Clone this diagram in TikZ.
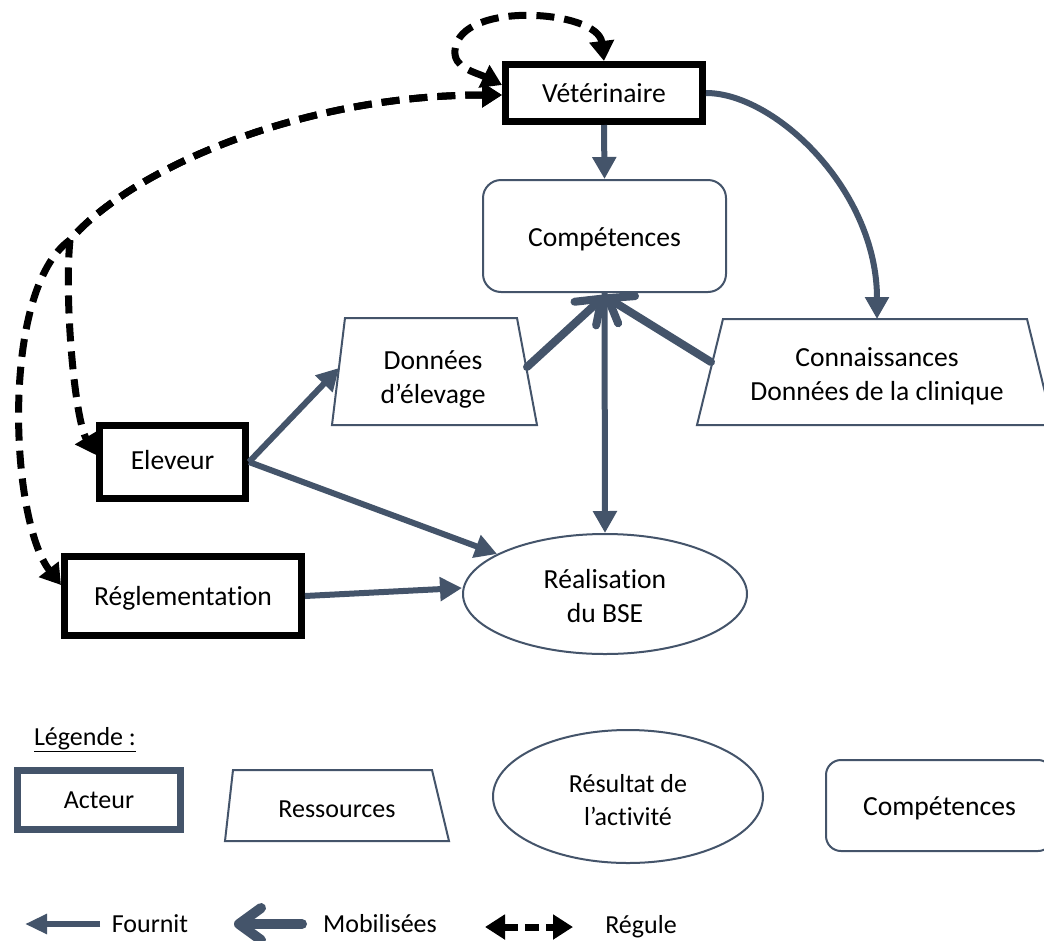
\documentclass[tikz,border=0pt]{standalone}
\usepackage{fontspec}
\setmainfont{Carlito}[Ligatures=NoCommon]
\usetikzlibrary{arrows.meta,shapes.geometric}
\definecolor{slate}{HTML}{44546A}
\newcommand{\dn}[2][4pt]{\raisebox{-#1}[\height][\depth]{\begin{tabular}{@{}c@{}}#2\end{tabular}}}
\begin{document}
\begin{tikzpicture}[x=1pt,y=-1pt,
  every node/.style={font=\fontsize{27.6}{34}\selectfont, inner sep=0pt, text=black},
  legfont/.style={font=\fontsize{26}{33}\selectfont},
  actor/.style={draw=black, line width=7pt, rectangle},
  compbox/.style={draw=slate, line width=2pt, rectangle, rounded corners=18pt},
  resline/.style={draw=slate, line width=2pt, line join=miter},
  resultbox/.style={ellipse, draw=slate, line width=2pt},
  fournit/.style={draw=slate, line width=6pt, -{Triangle[length=22pt,width=23pt]}},
  mobil/.style={draw=slate, line width=8pt, line cap=round, -{Straight Barb[length=22pt,width=32pt,round]}},
  regule/.style={draw=black, line width=7pt, dash pattern=on 18pt off 10pt,
     {Triangle[length=20pt,width=24pt]}-{Triangle[length=20pt,width=24pt]}}
]
\clip (0,0) rectangle (1044,940);
\fill[white] (0,0) rectangle (1044,940);

% main nodes
\node[actor, minimum width=197pt, minimum height=57pt] (vet) at (604,93) {\dn[3pt]{Vétérinaire}};
\node[actor, minimum width=146pt, minimum height=73pt] (ele) at (172.5,462) {\dn[1pt]{Eleveur}};
\node[actor, minimum width=237pt, minimum height=79pt] (reg) at (183,596) {\dn[3pt]{Réglementation}};
\node[compbox, minimum width=243pt, minimum height=112pt] (comp) at (604.5,236) {\dn[4pt]{Compétences}};
\node[resultbox, minimum width=284pt, minimum height=120pt] (real) at (605,594) {\dn[5pt]{Réalisation\\du BSE}};

% resources (trapezoids)
\draw[resline] (345,318) -- (517,318) -- (537,425) -- (332,425) -- cycle;
\node (don) at (433,371.5) {\dn[8pt]{Données\\d’élevage}};
\coordinate (donL) at (339,368);
\coordinate (donR) at (527,367);
\draw[resline] (723,319) -- (1027,319) -- (1053,425) -- (697,425) -- cycle;
\node (con) at (877,372) {\dn[5pt]{Connaissances\\Données de la clinique}};
\coordinate (conT) at (877,319);
\coordinate (conL) at (711,362);

% fournit arrows
\draw[fournit] (vet.south) -- (comp.north);
\draw[fournit] (vet.east) .. controls (775,93) and (877,190) .. (conT);
\draw[fournit] (ele.east) -- (donL);
\draw[fournit] (ele.east) -- (real);
\draw[fournit] (reg.east) -- ([yshift=6pt]real.west);
\draw[fournit] (comp.south) -- (real.north);

% mobilisees arrows
\draw[mobil] (donR) -- ([yshift=-3pt]comp.south);
\draw[mobil] (conL) -- ([yshift=-3pt]comp.south);

% regule arrows
\draw[regule] ([yshift=8pt]vet.west) .. controls (475,72) and (453,68) .. (455,50)
   .. controls (460,0) and (598,10) .. (vet.north);
\draw[regule] ([yshift=-2pt]vet.west) .. controls (300,95) and (130,170) .. (70,240)
   .. controls (64,300) and (75,420) .. ([yshift=7pt]ele.west);
\draw[regule] ([yshift=-2pt]vet.west) .. controls (300,95) and (130,170) .. (70,240)
   .. controls (0,290) and (10,520) .. ([yshift=11pt]reg.west);

% legend
\node[legfont] (leg) at (85,737) {\dn[2pt]{\underline{Légende :}}};
\node[actor, draw=slate, legfont, minimum width=163pt, minimum height=59pt] (lact) at (99,800) {Acteur};
\draw[resline] (233,770) -- (432,770) -- (449,841) -- (225,841) -- cycle;
\node[legfont] (lres) at (337,805.5) {\dn[5pt]{Ressources}};
\node[resultbox, legfont, minimum width=270pt, minimum height=133pt] (lrst) at (628,796.5) {\dn[6pt]{Résultat de\\l’activité}};
\node[compbox, rounded corners=15pt, minimum width=227pt, minimum height=91pt] (lcomp) at (939.5,805.5) {\dn[3pt]{Compétences}};

\coordinate (f1) at (100,924);
\coordinate (f0) at (25,924);
\draw[fournit, -{Triangle[length=22pt,width=19pt]}] (f1) -- (f0);
\node[legfont] (lf) at (150,924) {Fournit};
\coordinate (m1) at (302,924);
\coordinate (m0) at (234,924);
\draw[mobil, line width=10pt] (m1) -- (m0);
\node[legfont] (lm) at (380,924) {Mobilisées};
\coordinate (r0) at (485,927);
\coordinate (r1) at (573,927);
\draw[regule, dash pattern=on 14pt off 7pt] (r0) -- (r1);
\node[legfont] (lr) at (641,927) {Régule};
\end{tikzpicture}
\end{document}
